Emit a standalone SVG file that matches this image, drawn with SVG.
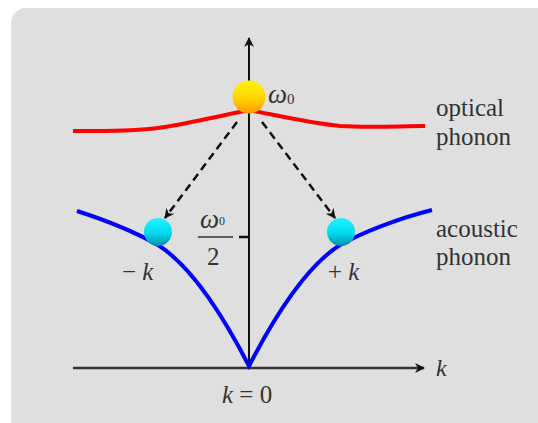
<svg xmlns="http://www.w3.org/2000/svg" width="538" height="423" viewBox="0 0 538 423">
<defs>
<style>
.lbl{font-family:"Liberation Serif","Times New Roman",serif;fill:#333;font-size:25px}
.math{font-family:"Liberation Serif","Times New Roman",serif;fill:#333;font-style:italic}
.axis{stroke:#111;stroke-width:2;fill:none}
.dash{stroke:#111;stroke-width:2.5;fill:none;stroke-dasharray:8,5}
</style>
<linearGradient id="gold" x1="0" y1="0" x2="0" y2="1">
<stop offset="0" stop-color="#fff200"/><stop offset="0.5" stop-color="#ffd800"/><stop offset="1" stop-color="#ff9a00"/>
</linearGradient>
<linearGradient id="cyan" x1="0" y1="0" x2="0" y2="1">
<stop offset="0" stop-color="#22f4ff"/><stop offset="0.55" stop-color="#00d8ee"/><stop offset="1" stop-color="#0090a8"/>
</linearGradient>
<marker id="ah" markerWidth="10" markerHeight="10" refX="9" refY="5" orient="auto" markerUnits="userSpaceOnUse">
<path d="M0,0 L10,5 L0,10 L3,5 Z" fill="#111"/>
</marker>
</defs>
<rect x="0" y="0" width="538" height="423" fill="#fff"/>
<rect x="11" y="8" width="545" height="430" rx="15" fill="#dfdfdf"/>
<g id="connectors">
<line class="axis" x1="249" y1="368" x2="249" y2="38" marker-end="url(#ah)"/>
<line class="axis" x1="73" y1="368" x2="424" y2="368" marker-end="url(#ah)" style="stroke:#333;stroke-width:2.5"/>
<line class="axis" x1="239" y1="237" x2="249" y2="237" style="stroke-width:2.5"/>
<line class="dash" x1="237" y1="122" x2="165" y2="218" marker-end="url(#ah)"/>
<line class="dash" x1="262" y1="122" x2="335" y2="218" marker-end="url(#ah)"/>
</g>
<g id="optical">
<path d="M73,131 C110,131 140,131 165,127 C195,122 220,116 249,110 C280,116 310,123 340,126 C370,128 400,126 425,126" stroke="#ff0000" stroke-width="4" fill="none"/>
</g>
<g id="acoustic">
<path d="M77,211 C105,220 135,232 158,245 C185,262 215,300 249,366 C283,300 313,262 340,245 C363,232 400,218 432,210" stroke="#0000ff" stroke-width="4" fill="none" stroke-linejoin="miter"/>
</g>
<g id="omega0-ball"><circle cx="249" cy="97" r="16.5" fill="url(#gold)"/></g>
<g id="minus-k-ball"><circle cx="158" cy="232" r="14" fill="url(#cyan)"/></g>
<g id="plus-k-ball"><circle cx="341" cy="232" r="14" fill="url(#cyan)"/></g>
<g id="labels">
<text class="math" x="268" y="103" font-size="27">ω<tspan font-size="15" font-style="normal" dy="1">0</tspan></text>
<text class="math" x="200" y="228" font-size="27">ω<tspan font-size="12" font-style="normal" dy="-3">0</tspan></text>
<line x1="198" y1="237" x2="233" y2="237" stroke="#333" stroke-width="1.3"/>
<text class="lbl" x="207" y="265" font-size="25">2</text>
<text class="lbl" x="122" y="280" font-size="25">− <tspan font-style="italic">k</tspan></text>
<text class="lbl" x="328" y="280" font-size="25">+ <tspan font-style="italic">k</tspan></text>
<text class="math" x="436" y="376" font-size="24">k</text>
<text class="lbl" x="222" y="403"><tspan font-style="italic">k</tspan> = 0</text>
<text class="lbl" x="436" y="116" font-size="26">optical</text>
<text class="lbl" x="436" y="145" font-size="26">phonon</text>
<text class="lbl" x="436" y="237" font-size="26">acoustic</text>
<text class="lbl" x="436" y="265" font-size="26">phonon</text>
</g>
</svg>
